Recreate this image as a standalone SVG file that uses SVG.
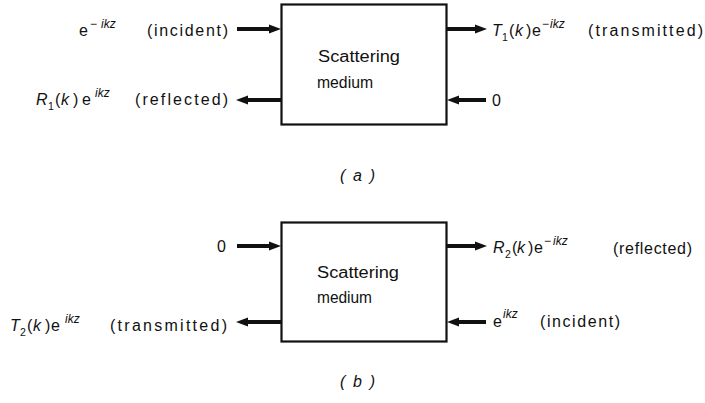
<svg xmlns="http://www.w3.org/2000/svg" width="705" height="403" viewBox="0 0 705 403">
<style>
text{font-family:"Liberation Sans","DejaVu Sans",sans-serif;font-size:16px;fill:#111;}
.sup{font-size:12px;}
.sub{font-size:10.5px;}
.it{font-style:italic;}
.box{fill:#fff;stroke:#111;stroke-width:2.2;}
.arr{stroke:#111;stroke-width:4;fill:none;marker-end:url(#ah);}
</style>
<defs>
<marker id="ah" markerUnits="userSpaceOnUse" markerWidth="12" markerHeight="10" refX="4" refY="5" orient="auto">
<path d="M0,0.5 L12,5 L0,9.5 Z" fill="#111"/>
</marker>
</defs>
<rect width="705" height="403" fill="#fff"/>

<g id="connectors">
<path class="arr" d="M237,29 H273"/>
<path class="arr" d="M281,100 H244"/>
<path class="arr" d="M447,29 H479"/>
<path class="arr" d="M486,100 H455"/>
<path class="arr" d="M237,246 H273"/>
<path class="arr" d="M281,322 H244"/>
<path class="arr" d="M447,246 H479"/>
<path class="arr" d="M486,322 H455"/>
</g>

<g id="medium-a">
<rect class="box" x="281.5" y="4.5" width="165" height="120"/>
<text x="318" y="62" textLength="82" lengthAdjust="spacingAndGlyphs">Scattering</text>
<text x="317" y="88" textLength="56" lengthAdjust="spacingAndGlyphs">medium</text>
</g>

<g id="incident-a">
<text><tspan x="79" y="36">e</tspan><tspan class="sup" x="90" y="28">−</tspan><tspan class="sup it" x="101" y="28">ikz</tspan></text>
<text x="147" y="36" textLength="81" lengthAdjust="spacing">(incident)</text>
</g>

<g id="reflected-a">
<text><tspan class="it" x="36" y="105">R</tspan><tspan class="sub" x="48" y="110">1</tspan><tspan x="55" y="105">(</tspan><tspan class="it" x="61" y="105">k</tspan><tspan x="73" y="105">)</tspan><tspan x="82" y="105">e</tspan><tspan class="sup it" x="95" y="97">ikz</tspan></text>
<text x="135" y="105" textLength="93" lengthAdjust="spacing">(reflected)</text>
</g>

<g id="transmitted-a">
<text><tspan class="it" x="492" y="36">T</tspan><tspan class="sub" x="502" y="41">1</tspan><tspan x="509" y="36">(</tspan><tspan class="it" x="515" y="36">k</tspan><tspan x="526" y="36">)</tspan><tspan x="532" y="36">e</tspan><tspan class="sup" x="542" y="28">−</tspan><tspan class="sup it" x="550" y="28">ikz</tspan></text>
<text x="588" y="36" textLength="115" lengthAdjust="spacing">(transmitted)</text>
</g>

<g id="zero-a">
<text x="492" y="106">0</text>
</g>

<g id="label-a">
<text class="it" x="340" y="181" textLength="35" lengthAdjust="spacing">(a)</text>
</g>

<g id="medium-b">
<rect class="box" x="281.5" y="222.5" width="165" height="119"/>
<text x="317" y="278" textLength="82" lengthAdjust="spacingAndGlyphs">Scattering</text>
<text x="317" y="303" textLength="55" lengthAdjust="spacingAndGlyphs">medium</text>
</g>

<g id="zero-b">
<text x="217" y="252">0</text>
</g>

<g id="transmitted-b">
<text><tspan class="it" x="10" y="331">T</tspan><tspan class="sub" x="20" y="336">2</tspan><tspan x="27" y="331">(</tspan><tspan class="it" x="33" y="331">k</tspan><tspan x="45" y="331">)</tspan><tspan x="51" y="331">e</tspan><tspan class="sup it" x="65" y="323">ikz</tspan></text>
<text x="110" y="331" textLength="117" lengthAdjust="spacing">(transmitted)</text>
</g>

<g id="reflected-b">
<text><tspan class="it" x="493" y="253">R</tspan><tspan class="sub" x="505" y="258">2</tspan><tspan x="512" y="253">(</tspan><tspan class="it" x="517" y="253">k</tspan><tspan x="528" y="253">)</tspan><tspan x="534" y="253">e</tspan><tspan class="sup" x="544" y="245">−</tspan><tspan class="sup it" x="553" y="245">ikz</tspan></text>
<text x="613" y="254" textLength="79" lengthAdjust="spacing">(reflected)</text>
</g>

<g id="incident-b">
<text><tspan x="493" y="327">e</tspan><tspan class="sup it" x="503" y="318">ikz</tspan></text>
<text x="540" y="327" textLength="80" lengthAdjust="spacing">(incident)</text>
</g>

<g id="label-b">
<text class="it" x="340" y="387" textLength="35" lengthAdjust="spacing">(b)</text>
</g>
</svg>
